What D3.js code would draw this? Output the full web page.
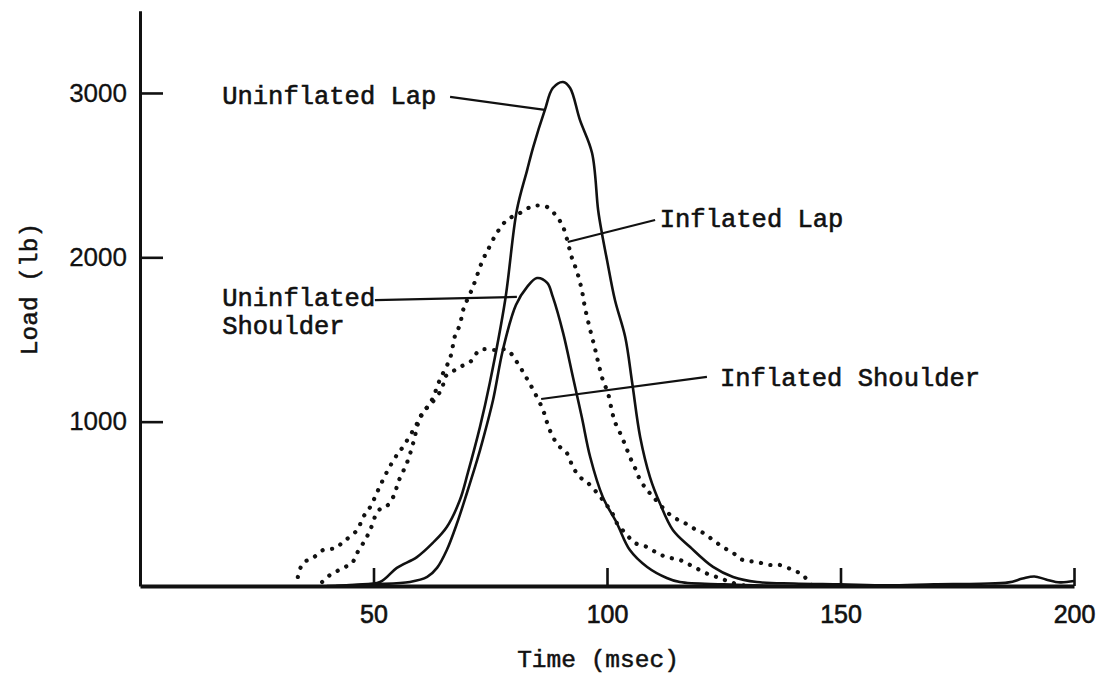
<!DOCTYPE html>
<html>
<head>
<meta charset="utf-8">
<script src="https://cdn.jsdelivr.net/npm/d3@7/dist/d3.min.js"></script>
<style>
  html, body { margin: 0; padding: 0; background: #fff; }
  svg { display: block; }
</style>
</head>
<body>
<svg id="chart" width="1108" height="673"></svg>
<script>
// Belt load traces, time (msec) vs load (lb)
const xTicks = [50, 100, 150, 200];
const yTicks = [1000, 2000, 3000];

const uninflatedLapT = [40, 46, 51.4, 55.0, 59.3, 62.7, 65.7, 68.5, 70.2, 72.8, 74.9, 78.2, 80.7, 82.9, 84.2, 86.7, 88.4, 90.6, 92.1, 94.2, 96.8, 98.1, 98.9, 100.0, 101.7, 103.9, 105.4, 107.1, 109.2, 111.3, 114.1, 117.8, 122.7, 127.0, 132.1, 140, 150, 160, 170, 180, 186, 189, 191.5, 194, 197, 200];
const uninflatedLapV = [0, 8, 24, 110, 176, 262, 359, 523, 688, 968, 1235, 1740, 2288, 2531, 2671, 2897, 3030, 3067, 3030, 2836, 2635, 2288, 2148, 1984, 1740, 1515, 1235, 907, 663, 505, 341, 237, 116, 55, 24, 15, 10, 4, 10, 14, 22, 45, 58, 40, 22, 30];

const uninflatedShoulderT = [42, 50, 57.8, 61.5, 63.6, 65.7, 67.9, 70.0, 72.2, 73.4, 75.6, 77.7, 80.5, 82.9, 85.0, 87.2, 88.4, 90.6, 92.7, 94.6, 96.4, 99.1, 102.1, 104.9, 108.6, 112.8, 115.6, 125, 140, 150];
const uninflatedShoulderV = [0, 10, 24, 55, 110, 219, 383, 566, 767, 888, 1132, 1436, 1710, 1820, 1874, 1844, 1759, 1540, 1272, 1028, 785, 542, 383, 219, 116, 49, 24, 10, 0, 0];

const inflatedLapT = [33.8, 34.9, 37.0, 39.2, 41.8, 43.5, 46.5, 47.8, 49.3, 51.0, 53.1, 55.0, 56.3, 58.9, 60.6, 62.5, 64.2, 66.4, 67.5, 68.5, 69.2, 71.3, 73.4, 74.5, 76.4, 78.6, 81.4, 84.2, 87.2, 89.3, 90.6, 92.5, 93.6, 94.6, 95.3, 96.4, 97.4, 98.1, 99.1, 100.2, 101.1, 101.7, 102.8, 103.9, 104.9, 106.0, 107.1, 108.6, 109.9, 112.0, 114.1, 116.3, 118.4, 120.6, 122.7, 124.8, 127.0, 129.1, 132.1, 134.9, 137.0, 139.8, 142.0, 142.8, 144];
const inflatedLapV = [55, 140, 170, 219, 231, 268, 341, 420, 481, 584, 706, 797, 846, 968, 1053, 1132, 1254, 1387, 1527, 1588, 1680, 1820, 1984, 2045, 2148, 2227, 2270, 2312, 2306, 2245, 2185, 1996, 1911, 1801, 1692, 1558, 1448, 1363, 1254, 1174, 1059, 998, 931, 858, 785, 718, 645, 584, 542, 475, 420, 389, 353, 323, 280, 237, 201, 158, 146, 128, 128, 97, 67, 37, 0];

const inflatedShoulderT = [39.0, 40.7, 43.5, 45.4, 46.5, 48.2, 49.3, 50.7, 52.0, 53.1, 54.6, 55.2, 56.3, 57.4, 58.5, 60.0, 61.0, 62.5, 64.7, 65.3, 66.8, 68.5, 70.7, 72.8, 76.0, 78.6, 80.7, 82.4, 84.2, 86.3, 87.2, 88.4, 89.9, 91.4, 92.7, 94.2, 95.9, 97.9, 99.6, 101.1, 102.1, 103.9, 106.0, 108.6, 110.7, 112.8, 115.6, 117.8, 119.9, 122.1, 124.2, 126.3, 130];
const inflatedShoulderV = [24, 67, 110, 140, 201, 280, 341, 444, 481, 493, 566, 627, 694, 767, 870, 1028, 1071, 1114, 1205, 1272, 1302, 1333, 1363, 1436, 1436, 1436, 1363, 1284, 1193, 1071, 992, 907, 846, 809, 724, 663, 627, 566, 505, 444, 383, 323, 262, 237, 201, 176, 158, 128, 97, 67, 49, 24, 0];

// Curve labels: text anchor (time, load) and leader line from curve to label
const labelNames = ["Uninflated Lap", "Inflated Lap", "Uninflated|Shoulder", "Inflated Shoulder"];
const labelAt = [[17.6, 2988], [111.3, 2239], [17.6, 1759], [124.2, 1272]];
const leaderFrom = [[86.7, 2897], [91.6, 2093], [80.7, 1759], [85.9, 1138]];
const leaderTo = [[66.4, 2976], [110.3, 2227], [50.3, 1740], [121.4, 1272]];

const svg = d3.select("#chart");
const ink = "#111";

const x = d3.scaleLinear().domain([0, 200]).range([140, 1074]);
const y = d3.scaleLinear().domain([0, 3500]).range([586, 10.8]);

const zip = (ts, vs) => ts.map((t, i) => [t, vs[i]]);
const line = d3.line().x(d => x(d[0])).y(d => y(d[1])).curve(d3.curveCatmullRom.alpha(0.5));

const series = [
  { pts: zip(uninflatedLapT, uninflatedLapV), dotted: false },
  { pts: zip(uninflatedShoulderT, uninflatedShoulderV), dotted: false },
  { pts: zip(inflatedLapT, inflatedLapV), dotted: true },
  { pts: zip(inflatedShoulderT, inflatedShoulderV), dotted: true }
];

series.forEach(s => {
  const p = svg.append("path")
    .attr("d", line(s.pts))
    .attr("fill", "none")
    .attr("stroke", ink);
  if (s.dotted) {
    p.attr("stroke-width", 4.2)
     .attr("stroke-linecap", "round")
     .attr("stroke-dasharray", "0.1 9.5");
  } else {
    p.attr("stroke-width", 2.6)
     .attr("stroke-linejoin", "round");
  }
});

// Axes
const yAxis = d3.axisLeft(y).tickValues(yTicks).tickFormat(d3.format("d"))
  .tickSizeInner(-23).tickSizeOuter(0).tickPadding(13);
const gy = svg.append("g").attr("transform", `translate(${x(0)},0)`).call(yAxis);
gy.select(".domain").attr("stroke", ink).attr("stroke-width", 3);
gy.selectAll(".tick line").attr("stroke", ink).attr("stroke-width", 2.6);
gy.selectAll(".tick text")
  .attr("fill", ink)
  .style("font-family", "'Liberation Sans', Arial, sans-serif")
  .style("font-size", "26px")
  .attr("stroke", ink).attr("stroke-width", 0.3);

const xAxis = d3.axisBottom(x).tickValues(xTicks).tickFormat(d3.format("d"))
  .tickSizeInner(-18).tickSizeOuter(0).tickPadding(19);
const gx = svg.append("g").attr("transform", `translate(0,${y(0)})`).call(xAxis);
gx.select(".domain").attr("stroke", ink).attr("stroke-width", 4);
gx.selectAll(".tick line").attr("stroke", ink).attr("stroke-width", 2.6);
gx.selectAll(".tick text")
  .attr("fill", ink)
  .style("font-family", "'Liberation Sans', Arial, sans-serif")
  .style("font-size", "25px")
  .attr("stroke", ink).attr("stroke-width", 0.6);

// Axis titles
const mono = "'Liberation Mono', 'DejaVu Sans Mono', monospace";
svg.append("text")
  .attr("x", 598).attr("y", 658).attr("dy", "0.35em")
  .attr("text-anchor", "middle")
  .style("font-family", mono).style("font-size", "24.5px")
  .attr("fill", ink).attr("stroke", ink).attr("stroke-width", 0.5)
  .text("Time (msec)");

svg.append("text")
  .attr("transform", "translate(28,289) rotate(-90)")
  .attr("dy", "0.35em")
  .attr("text-anchor", "middle")
  .style("font-family", mono).style("font-size", "24.5px")
  .attr("fill", ink).attr("stroke", ink).attr("stroke-width", 0.5)
  .text("Load (lb)");

// Curve labels with leader lines
labelNames.forEach((name, i) => {
  svg.append("line")
    .attr("x1", x(leaderFrom[i][0])).attr("y1", y(leaderFrom[i][1]))
    .attr("x2", x(leaderTo[i][0])).attr("y2", y(leaderTo[i][1]))
    .attr("stroke", ink).attr("stroke-width", 2.2);
  const t = svg.append("text")
    .attr("x", x(labelAt[i][0])).attr("y", y(labelAt[i][1]))
    .style("font-family", mono).style("font-size", "25.5px")
    .attr("fill", ink).attr("stroke", ink).attr("stroke-width", 0.6);
  name.split("|").forEach((part, k) => {
    t.append("tspan")
      .attr("x", x(labelAt[i][0]))
      .attr("dy", k === 0 ? "0.35em" : "1.1em")
      .text(part);
  });
});
</script>
</body>
</html>
